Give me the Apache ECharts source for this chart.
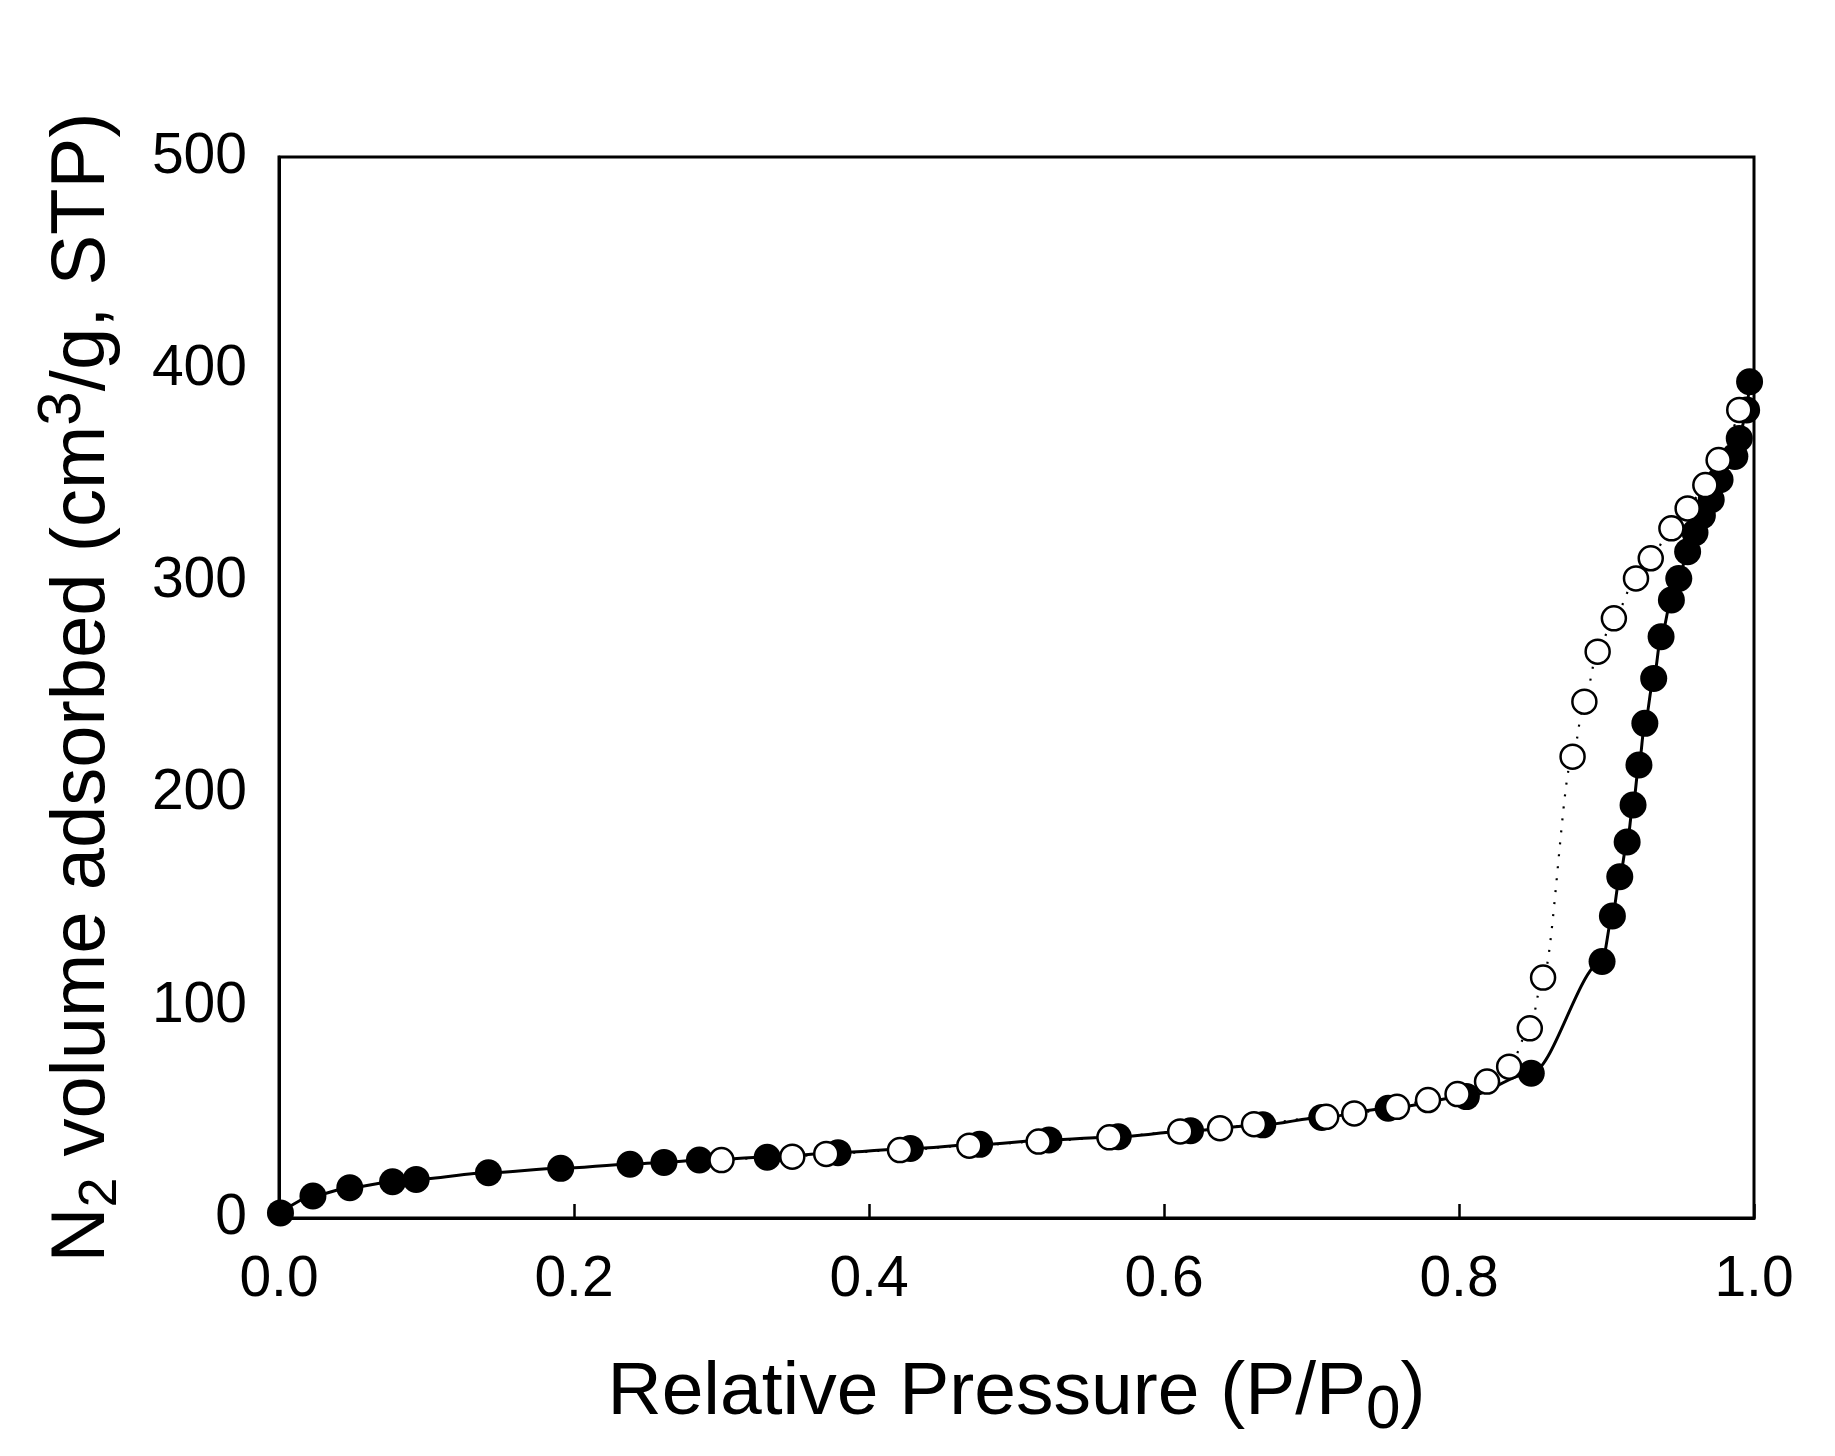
<!DOCTYPE html>
<html>
<head>
<meta charset="utf-8">
<script src="https://cdn.jsdelivr.net/npm/echarts@6/dist/echarts.min.js"></script>
<style>
html,body{margin:0;padding:0;background:#fff;}
#chart{width:1835px;height:1456px;}
</style>
</head>
<body>
<div id="chart"></div>
<script>
// Adsorption branch (filled circles)
const adsP = [0.001,0.023,0.048,0.077,0.093,0.142,0.191,0.238,0.261,0.285,0.331,0.379,0.428,0.475,0.522,0.569,0.618,0.667,0.707,0.752,0.805,0.849,0.897,0.904,0.909,0.914,0.918,0.922,0.926,0.932,0.937,0.944,0.949,0.955,0.960,0.965,0.971,0.977,0.987,0.990,0.995,0.997];
const adsV = [2.4,10.4,14.3,17.1,18.2,21.3,23.4,25.3,26.2,27.3,28.6,30.8,32.8,34.7,36.8,38.3,41.1,43.9,47.4,51.7,57.2,68.2,120.9,142.3,160.8,177.2,194.6,213.5,233.1,254.3,273.9,291.2,301.4,314.0,323,331,338.5,347.9,358.9,367.4,380.8,394.1];
// Desorption branch (open circles)
const desP = [0.300,0.348,0.371,0.421,0.468,0.515,0.563,0.611,0.638,0.661,0.710,0.729,0.758,0.779,0.799,0.819,0.834,0.848,0.857,0.877,0.885,0.894,0.905,0.920,0.930,0.944,0.955,0.967,0.976,0.990];
const desV = [27.3,28.9,30.2,32.0,34.1,36.0,38.0,40.8,42.3,44.2,47.7,49.3,52.4,55.6,58.4,64.3,71.3,89.4,113.3,217.4,243.3,266.9,282.6,301.4,310.9,325.0,334.4,345.4,357.2,380.8];
// Axis ticks
const xTicks = [0.0,0.2,0.4,0.6,0.8,1.0];
const yTicks = [0,100,200,300,400,500];

const FONT = 'Liberation Sans, Arial, sans-serif';
const chart = echarts.init(document.getElementById('chart'), null, {renderer:'canvas'});
chart.setOption({
  animation: false,
  backgroundColor: '#fff',
  grid: {left: 279, right: 81, top: 157, bottom: 238, containLabel: false, outerBoundsMode: 'none',
         show: true, borderColor: '#000', borderWidth: 3, backgroundColor: 'transparent'},
  xAxis: {
    type: 'value', min: xTicks[0], max: xTicks[xTicks.length-1], interval: 0.2,
    axisLine: {show: true, lineStyle: {color: '#000', width: 3}},
    axisTick: {show: true, inside: true, length: 14, lineStyle: {color: '#000', width: 2.5}},
    splitLine: {show: false},
    axisLabel: {color: '#000', fontFamily: FONT, fontSize: 57, margin: 34, formatter: v => v.toFixed(1)},
    name: 'Relative Pressure (P/P{sub|0})',
    nameLocation: 'middle', nameGap: 126,
    nameTextStyle: {color: '#000', fontFamily: FONT, fontSize: 75,
      rich: {sub: {color:'#000', fontFamily: FONT, fontSize: 62, padding: [36,0,0,0]}}}
  },
  yAxis: {
    type: 'value', min: yTicks[0], max: yTicks[yTicks.length-1], interval: 100,
    axisLine: {show: true, lineStyle: {color: '#000', width: 3}},
    axisTick: {show: false},
    splitLine: {show: false},
    axisLabel: {color: '#000', fontFamily: FONT, fontSize: 57, margin: 32},
    name: 'N{sub|2} volume adsorbed (cm{sup|3}/g, STP)',
    nameLocation: 'middle', nameGap: 145,
    nameTextStyle: {color: '#000', fontFamily: FONT, fontSize: 76,
      rich: {
        sub: {color:'#000', fontFamily: FONT, fontSize: 54, padding: [36,0,0,0]},
        sup: {color:'#000', fontFamily: FONT, fontSize: 62, padding: [0,0,40,0]}
      }}
  },
  series: [
    {
      name: 'Adsorption', type: 'line', z: 2,
      data: adsP.map((p,i) => [p, adsV[i]]),
      symbol: 'circle', symbolSize: 27,
      smooth: 0.3, smoothMonotone: 'x',
      itemStyle: {color: '#000'},
      lineStyle: {color: '#000', width: 3}
    },
    {
      name: 'Desorption', type: 'line', z: 3,
      data: desP.map((p,i) => [p, desV[i]]),
      symbol: 'circle', symbolSize: 24,
      smooth: 0.3, smoothMonotone: 'x',
      itemStyle: {color: '#fff', borderColor: '#000', borderWidth: 2.5},
      lineStyle: {color: '#000', width: 2.2, type: [2, 10]}
    }
  ]
});
</script>
</body>
</html>
